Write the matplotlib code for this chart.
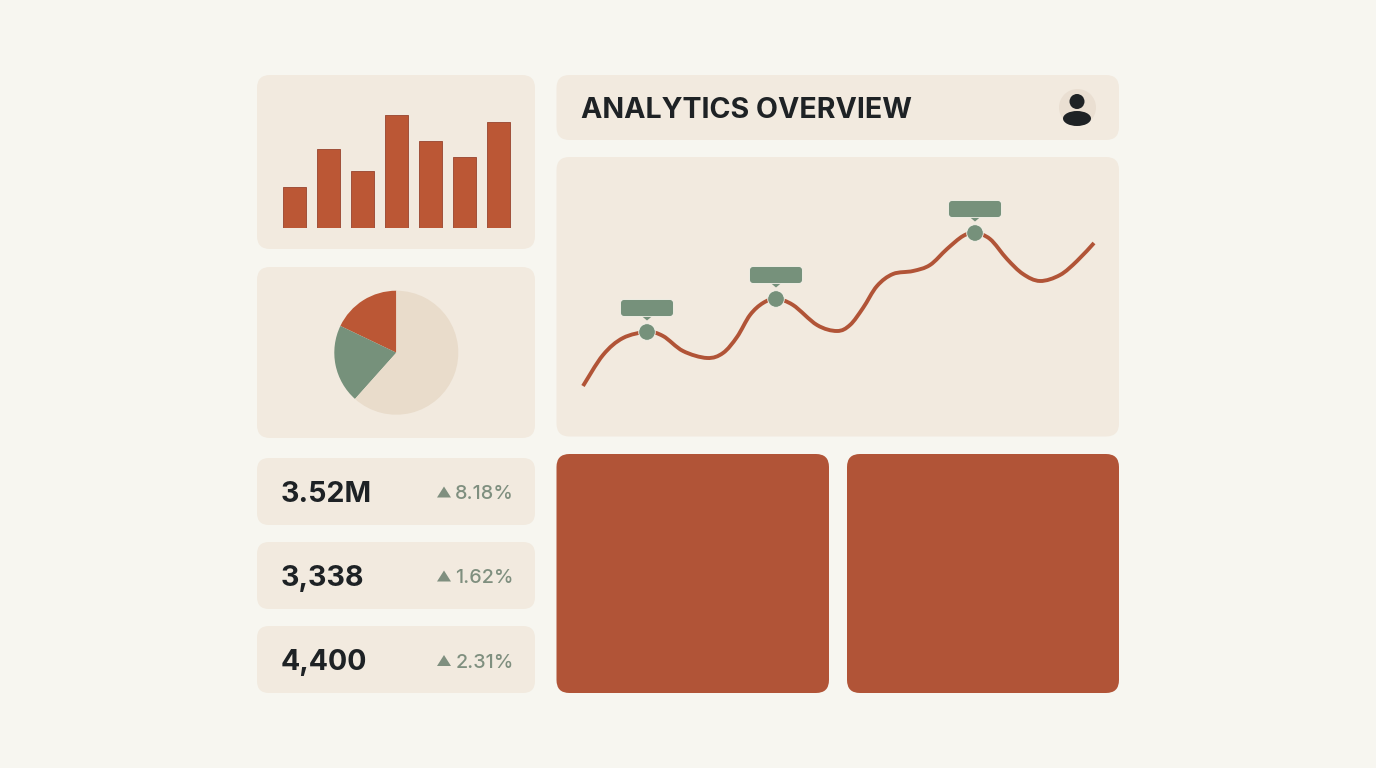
import matplotlib
matplotlib.use("Agg")
import numpy as np
import matplotlib.pyplot as plt
from matplotlib.patches import FancyBboxPatch, Polygon, Circle, Ellipse, PathPatch
from matplotlib.path import Path

BG = "#F7F6F0"; PANEL = "#F2EADF"; RUST = "#B15437"; BAR = "#BB5735"; BAR_EDGE = "#A0503A"
GREEN = "#76917B"; SAND = "#E9DCCB"; INK = "#1E2225"; DELTA = "#7F8F7F"; HALO = "#F8F4EC"

title_text = "ANALYTICS OVERVIEW"
bar_values = [41, 79, 57, 113, 87, 71, 106]
pie_values = [17.9, 20.5, 61.6]
line_x = [1, 21, 41, 65, 81, 101, 125, 141, 155, 168, 181, 194, 211, 235, 255, 268, 281, 295, 311,
          331, 348, 365, 381, 393, 408, 425, 441, 458, 478, 495, 512]
line_y = [50, 81, 98, 104, 100, 85, 78, 83, 99, 121, 133, 137, 131, 111, 105, 111, 128, 150, 162,
          165, 171, 187, 200, 203, 197, 177, 162, 155, 161, 175, 193]
peak_idx = [3, 11, 23]
metric_labels = ["3.52M", "3,338", "4,400"]
delta_labels = ["8.18%", "1.62%", "2.31%"]

W, H = 1376, 768
fig = plt.figure(figsize=(W / 100, H / 100), dpi=100, facecolor=BG)
plt.rcParams["font.family"] = ["Inter", "DejaVu Sans"]

bg = fig.add_axes([0, 0, 1, 1], zorder=0)
bg.set_xlim(0, W); bg.set_ylim(H, 0); bg.axis("off")

def panel(x0, y0, x1, y1, color=PANEL, r=13):
    bg.add_patch(FancyBboxPatch((x0 + r, y0 + r), x1 - x0 - 2 * r, y1 - y0 - 2 * r,
                                boxstyle=f"round,pad={r},rounding_size={r}", fc=color, ec="none"))

panel(257, 75, 535, 249)
panel(257, 267, 535, 438)
panel(257, 458, 535, 525, r=12)
panel(257, 542, 535, 609, r=12)
panel(257, 626, 535, 693, r=12)
panel(556.5, 75, 1119, 140)
panel(556.5, 157, 1119, 436.5)
panel(556.5, 454, 829, 693, RUST)
panel(847, 454, 1119, 693, RUST)

def axes_px(x0, y0, x1, y1):
    ax = fig.add_axes([x0 / W, 1 - y1 / H, (x1 - x0) / W, (y1 - y0) / H], zorder=2)
    ax.patch.set_alpha(0); ax.axis("off")
    return ax

# bars
bx = axes_px(277.5, 100, 515.5, 228)
bx.bar(range(len(bar_values)), bar_values, width=0.70, color=BAR, edgecolor=BAR_EDGE, linewidth=0.7)
bx.set_xlim(-0.5, 6.5); bx.set_ylim(0, 128)

# pie
px = axes_px(396.3 - 63, 352.7 - 63, 396.3 + 63, 352.7 + 63)
px.pie(pie_values, colors=[BAR, GREEN, SAND], startangle=90, counterclock=True, radius=62 / 63)
px.set_xlim(-1, 1); px.set_ylim(-1, 1)

# line (1 data unit = 1 px)
lx = axes_px(557, 157, 1118, 436)
lx.set_xlim(-25, 536); lx.set_ylim(0, 279)
pts = np.column_stack([line_x, line_y]).astype(float)
verts = [pts[0]]; codes = [Path.MOVETO]
for i in range(len(pts) - 1):
    p0 = pts[max(i - 1, 0)]; p1 = pts[i]; p2 = pts[i + 1]; p3 = pts[min(i + 2, len(pts) - 1)]
    verts += [p1 + (p2 - p0) / 6, p2 - (p3 - p1) / 6, p2]
    codes += [Path.CURVE4] * 3
lx.add_patch(PathPatch(Path(verts, codes), fc="none", ec=RUST, lw=2.8, capstyle="butt", zorder=3))
for i in peak_idx:
    cx, cy = line_x[i], line_y[i]
    lx.add_patch(Circle((cx, cy), 8.3, fc=GREEN, ec=HALO, lw=0.6, zorder=5))
    lx.add_patch(Polygon([(cx - 6, cy + 16.5), (cx + 6, cy + 16.5), (cx, cy + 11.5)], fc=GREEN, ec="none", zorder=5))
    lx.add_patch(FancyBboxPatch((cx - 22.5, cy + 19.5), 45, 9,
                                boxstyle="round,pad=4,rounding_size=4", fc=GREEN, ec=HALO, lw=0.6, zorder=5))

# header
fig.text(581 / W, 1 - 110 / H, title_text, fontsize=20.6, fontweight="bold", color=INK, va="center", ha="left", zorder=4)
bg.add_patch(Circle((1077.5, 107.5), 18.5, fc="#EADFD2", ec="none"))
bg.add_patch(Circle((1077, 101.5), 7.5, fc=INK, ec="none"))
bg.add_patch(Ellipse((1077, 118.5), 28, 15, fc=INK, ec="none"))

# metrics
for k, yc in enumerate([491.5, 575.5, 660]):
    fig.text(280.5 / W, 1 - (yc + 2.5) / H, metric_labels[k], fontsize=20.6, fontweight="bold", color=INK, va="center", ha="left", zorder=4)
    fig.text(514 / W, 1 - (yc + 2.5) / H, delta_labels[k], fontsize=14.2, fontweight="medium", color=DELTA, va="center", ha="right", zorder=4)
    bg.add_patch(Polygon([(437, yc + 6), (451, yc + 6), (444, yc - 5)], fc=DELTA, ec="none"))

fig.savefig("out.png", dpi=100, facecolor=BG)
